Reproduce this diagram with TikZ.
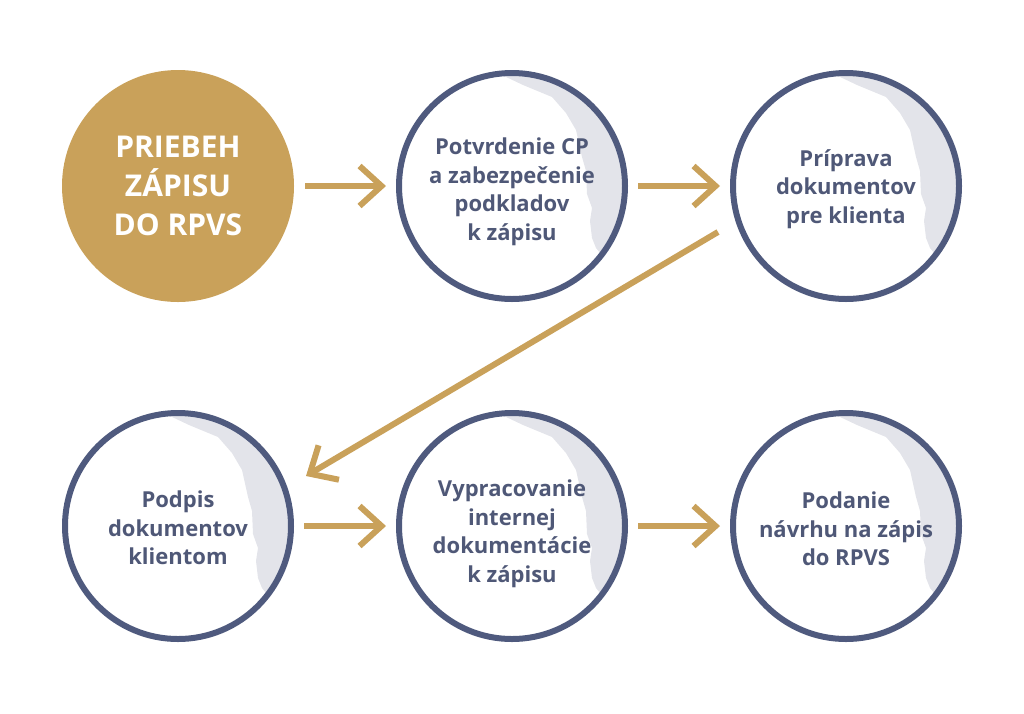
\documentclass[tikz,border=0pt]{standalone}
\usepackage{fontspec}
\setmainfont{Open Sans}
\usetikzlibrary{arrows.meta,backgrounds}
\definecolor{gold}{HTML}{C9A15A}
\definecolor{navy}{HTML}{4F5A7E}
\definecolor{txt}{HTML}{4F5877}
\definecolor{moongray}{HTML}{E3E4EA}
\begin{document}
\begin{tikzpicture}[x=1pt,y=-1pt,
  startnode/.style={circle, fill=gold, minimum size=232pt, inner sep=0pt,
    text=white, align=center, font=\fontsize{30}{39}\selectfont\bfseries},
  stepnode/.style={circle, draw=navy, line width=6pt, minimum size=226pt, inner sep=0pt},
  steptext/.style={inner sep=0pt, text=txt, align=center,
    font=\fontsize{22}{28.5}\selectfont\bfseries},
  arr/.style={draw=gold, line width=6pt,
    -{Straight Barb[length=22pt, width=40pt, line cap=butt]}}
]
\useasboundingbox (0,0) rectangle (1024,713);
\node[startnode] (c1) at (178,186) {PRIEBEH\\ZÁPISU\\DO RPVS};
\node[stepnode] (c2) at (512,186) {};
\node[stepnode] (c3) at (846,186) {};
\node[stepnode] (c4) at (178,526) {};
\node[stepnode] (c5) at (512,526) {};
\node[stepnode] (c6) at (846,526) {};
\node[steptext] (t2) at ([yshift=-6pt]c2.center) {Potvrdenie CP\\a zabezpečenie\\podkladov\\k zápisu};
\node[steptext] (t3) at ([yshift=-3pt]c3.center) {Príprava\\dokumentov\\pre klienta};
\node[steptext] (t4) at ([yshift=-2pt]c4.center) {Podpis\\dokumentov\\klientom};
\node[steptext] (t5) at ([yshift=-8pt]c5.center) {Vypracovanie\\internej\\dokumentácie\\k zápisu};
\node[steptext] (t6) at ([yshift=-3pt]c6.center) {Podanie\\návrhu na zápis\\do RPVS};
\begin{pgfonlayer}{background}
\foreach \n in {c2,c3,c4,c5,c6} {
  \begin{scope}
    \clip (\n.center) circle (112);
    \fill[moongray, shift={(\n.center)}]
      (-10,-130) -- (-8,-110) -- (11,-101) -- (40,-89) -- (54,-73) -- (64,-56)
      -- (70,-29) -- (74,-15) -- (75,8) -- (80,22) -- (78,35) -- (80,52)
      -- (84,62) -- (100,82) -- (160,82) -- (160,-160) -- (-10,-160) -- cycle;
  \end{scope}
}
\end{pgfonlayer}
\draw[arr] ([xshift=11pt]c1.east) -- ([xshift=-10pt]c2.west);
\draw[arr] ([xshift=10pt]c2.east) -- ([xshift=-10pt]c3.west);
\draw[arr] ([xshift=10pt]c4.east) -- ([xshift=-10pt]c5.west);
\draw[arr] ([xshift=10pt]c5.east) -- ([xshift=-10pt]c6.west);
\draw[arr] ([shift={(-128,46)}]c3.center) -- ([shift={(128,-50)}]c4.center);
\end{tikzpicture}
\end{document}
